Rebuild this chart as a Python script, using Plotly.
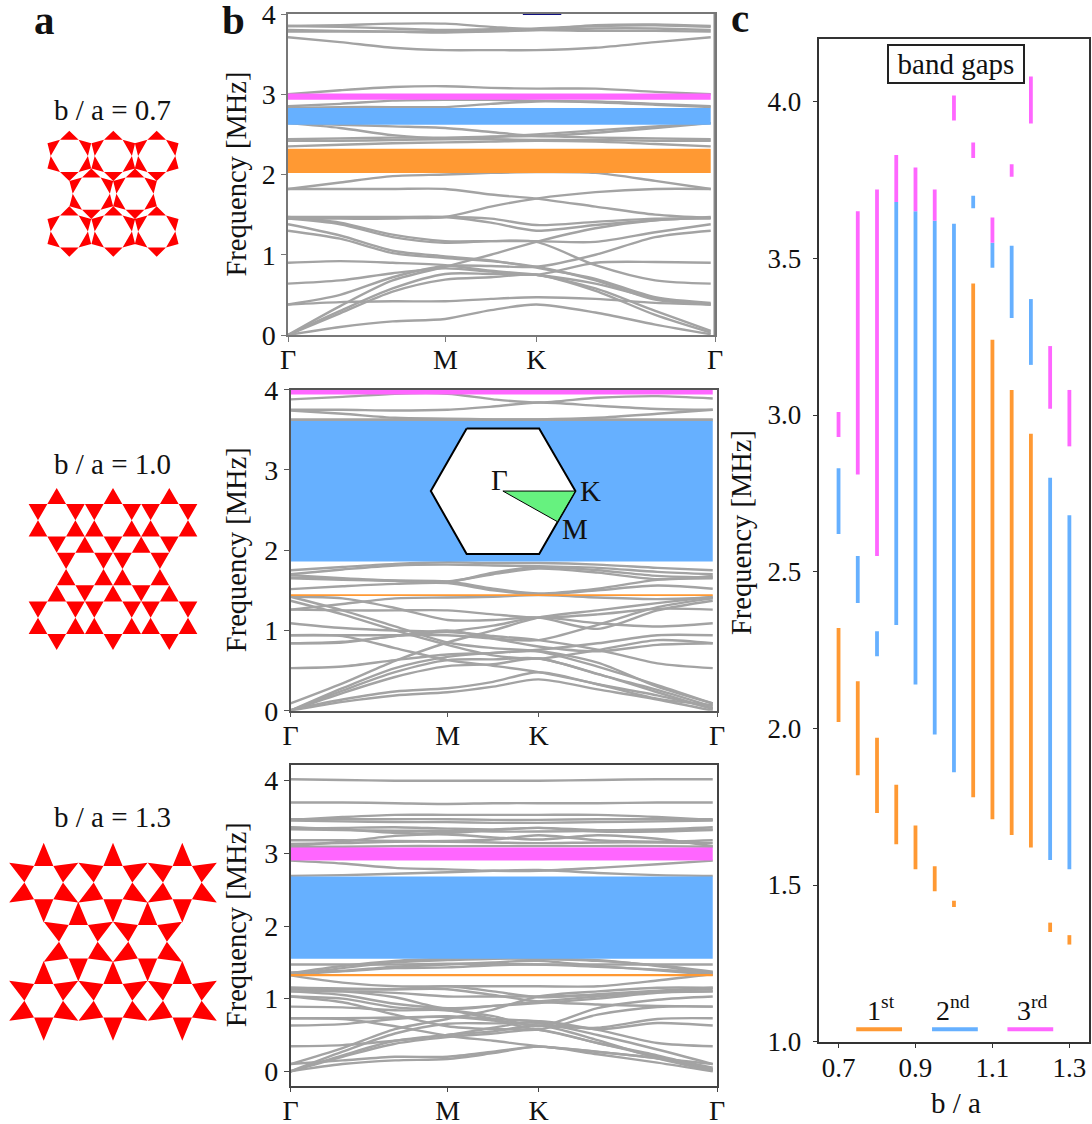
import math
import plotly.graph_objects as go

W, H = 1092, 1124
SERIF = "Liberation Serif"
GRAY = "#a3a3a3"
ORANGE, BLUE, MAGENTA = "#ff9933", "#66b0ff", "#ff66ff"

# ---------- panel c: band gaps ----------
ratios = [0.70, 0.75, 0.80, 0.85, 0.90, 0.95, 1.00, 1.05, 1.10, 1.15, 1.20, 1.25, 1.30]
gap1_low = [2.02, 1.85, 1.73, 1.63, 1.55, 1.48, 1.43, 1.78, 1.71, 1.66, 1.62, 1.35, 1.31]
gap1_high = [2.32, 2.15, 1.97, 1.82, 1.69, 1.56, 1.45, 3.42, 3.24, 3.08, 2.94, 1.38, 1.34]
gap2_low = [2.62, 2.40, 2.23, 2.33, 2.14, 1.98, 1.86, 3.66, 3.47, 3.31, 3.16, 1.58, 1.55]
gap2_high = [2.83, 2.55, 2.31, 3.68, 3.65, 3.62, 3.61, 3.70, 3.55, 3.54, 3.37, 2.80, 2.68]
gap3_low = [2.93, 2.81, 2.55, 3.68, 3.65, 3.62, 3.94, 3.82, 3.55, 3.76, 3.93, 3.02, 2.90]
gap3_high = [3.01, 3.65, 3.72, 3.83, 3.79, 3.72, 4.02, 3.87, 3.63, 3.80, 4.08, 3.22, 3.08]
legend_spans = [(0.746, 0.865), (0.943, 1.062), (1.139, 1.258)]

# ---------- panel b: dispersion curves ----------
band_x = [0, .122, .245, .368, .475, .5815, .72, .86, .99]
sym_ticks = [0, .3685, .5815, 1]
sym_labels = ["Γ", "M", "K", "Γ"]

bands_07 = [
    [0, .10, .17, .20, .31, .38, .28, .13, .01],
    [.38, .41, .42, .42, .45, .47, .45, .40, .38],
    [0, .27, .54, .69, .72, .75, .55, .25, .03],
    [0, .30, .58, .76, .76, .75, .58, .30, .05],
    [0, .36, .68, .85, 1.00, 1.16, 1.33, 1.43, 1.46],
    [.38, .50, .72, .86, .86, .85, 1.00, 1.22, 1.30],
    [.64, .68, .77, .83, .79, .75, .90, .91, .90],
    [.90, .92, .90, .87, .80, .75, .64, .46, .38],
    [1.30, 1.20, 1.02, .96, .92, .85, .68, .44, .38],
    [1.38, 1.24, 1.05, .98, .93, .84, .70, .47, .40],
    [1.47, 1.40, 1.25, 1.17, 1.17, 1.16, .87, .68, .64],
    [1.45, 1.38, 1.22, 1.15, 1.17, 1.17, 1.16, 1.28, 1.38],
    [1.47, 1.47, 1.47, 1.47, 1.40, 1.30, 1.37, 1.43, 1.47],
    [1.45, 1.45, 1.45, 1.47, 1.45, 1.37, 1.41, 1.45, 1.45],
    [1.46, 1.46, 1.46, 1.47, 1.60, 1.70, 1.78, 1.82, 1.82],
    [1.82, 1.82, 1.82, 1.82, 1.75, 1.70, 1.60, 1.50, 1.46],
    [1.82, 1.90, 1.98, 2.00, 2.02, 2.03, 2.02, 1.92, 1.82],
    [2.35, 2.37, 2.39, 2.40, 2.41, 2.42, 2.41, 2.38, 2.35],
    [2.42, 2.42, 2.43, 2.44, 2.44, 2.43, 2.43, 2.42, 2.42],
    [2.44, 2.45, 2.46, 2.46, 2.47, 2.48, 2.46, 2.45, 2.44],
    [2.64, 2.58, 2.49, 2.45, 2.47, 2.50, 2.55, 2.60, 2.64],
    [2.64, 2.62, 2.60, 2.58, 2.53, 2.48, 2.52, 2.58, 2.64],
    [2.83, 2.84, 2.84, 2.84, 2.88, 2.91, 2.90, 2.87, 2.84],
    [2.85, 2.88, 2.92, 2.93, 2.93, 2.92, 2.91, 2.88, 2.85],
    [3.00, 3.05, 3.09, 3.10, 3.08, 3.07, 3.07, 3.03, 3.00],
    [3.71, 3.65, 3.58, 3.55, 3.55, 3.55, 3.58, 3.65, 3.71],
    [3.78, 3.78, 3.78, 3.78, 3.79, 3.80, 3.79, 3.79, 3.78],
    [3.80, 3.79, 3.78, 3.77, 3.78, 3.80, 3.82, 3.82, 3.80],
    [3.85, 3.86, 3.88, 3.88, 3.84, 3.81, 3.86, 3.87, 3.85],
    [3.85, 3.84, 3.82, 3.80, 3.81, 3.82, 3.85, 3.86, 3.84],
]

bands_10 = [
    [0, .11, .19, .23, .30, .39, .265, .14, 0],
    [.01, .14, .24, .28, .36, .48, .33, .19, .03],
    [0, .22, .42, .555, .58, .65, .455, .26, .05],
    [0, .25, .48, .63, .64, .65, .46, .23, .02],
    [0, .28, .53, .67, .72, .74, .60, .30, .09],
    [.09, .34, .62, .85, 1.00, 1.16, 1.25, 1.34, 1.42],
    [.53, .55, .63, .70, .72, .76, .84, .94, .94],
    [.84, .85, .93, .98, .93, .88, .76, .59, .53],
    [.94, .93, .78, .63, .56, .48, .33, .15, .07],
    [1.09, 1.03, 1.00, .99, 1.06, 1.16, 1.09, 1.05, 1.09],
    [1.26, 1.25, 1.25, 1.25, 1.20, 1.16, 1.20, 1.27, 1.26],
    [1.37, 1.20, 1.00, .82, .69, .65, .755, .88, .84],
    [1.42, 1.25, 1.05, .85, .78, .74, .55, .32, .09],
    [1.42, 1.40, 1.28, 1.13, 1.13, 1.16, 1.02, 1.25, 1.37],
    [.94, .94, .94, .94, .90, .88, 1.07, 1.29, 1.40],
    [1.26, 1.33, 1.40, 1.41, 1.42, 1.44, 1.41, 1.39, 1.41],
    [.84, .86, .93, 1.00, .90, .80, .74, .82, .84],
    [1.515, 1.55, 1.58, 1.59, 1.50, 1.45, 1.50, 1.56, 1.52],
    [1.65, 1.63, 1.62, 1.61, 1.52, 1.46, 1.52, 1.63, 1.65],
    [1.69, 1.65, 1.62, 1.61, 1.70, 1.77, 1.72, 1.64, 1.68],
    [1.66, 1.64, 1.62, 1.60, 1.72, 1.79, 1.75, 1.68, 1.66],
    [1.70, 1.76, 1.81, 1.82, 1.81, 1.80, 1.78, 1.73, 1.70],
    [1.75, 1.79, 1.83, 1.85, 1.84, 1.84, 1.82, 1.78, 1.75],
    [3.62, 3.62, 3.62, 3.62, 3.62, 3.62, 3.62, 3.62, 3.62],
    [3.63, 3.63, 3.63, 3.63, 3.63, 3.63, 3.63, 3.63, 3.63],
    [3.74, 3.70, 3.65, 3.64, 3.63, 3.63, 3.65, 3.70, 3.75],
    [3.75, 3.75, 3.74, 3.75, 3.79, 3.84, 3.80, 3.76, 3.75],
    [3.88, 3.91, 3.95, 3.95, 3.88, 3.84, 3.90, 3.92, 3.89],
]

bands_13 = [
    [0, .10, .15, .17, .25, .34, .234, .12, 0],
    [.10, .15, .20, .20, .27, .34, .266, .18, .02],
    [0, .20, .38, .47, .52, .57, .39, .20, .05],
    [0, .22, .42, .50, .55, .63, .43, .18, .01],
    [0, .27, .52, .655, .66, .665, .50, .30, .10],
    [.10, .32, .58, .72, .85, 1.03, 1.10, 1.15, 1.15],
    [.345, .36, .42, .50, .60, .69, .57, .39, .345],
    [.63, .65, .72, .76, .72, .69, .58, .665, .63],
    [.73, .73, .74, .75, .70, .63, .60, .72, .73],
    [.89, .88, .84, .84, .72, .58, .78, .885, .89],
    [1.03, 1.00, .88, .84, .76, .62, .87, .985, 1.03],
    [1.10, 1.05, .93, .87, .90, .94, 1.00, 1.08, 1.10],
    [1.13, 1.10, 1.02, .86, .90, .96, 1.03, 1.10, 1.13],
    [1.10, 1.10, 1.08, 1.03, 1.03, 1.03, 1.05, 1.09, 1.10],
    [1.15, 1.14, 1.13, 1.13, 1.05, .96, .92, .90, .89],
    [.73, .72, .62, .49, .42, .345, .27, .18, .10],
    [1.03, .95, .78, .62, .58, .57, .39, .22, .03],
    [1.32, 1.22, 1.17, 1.17, 1.17, 1.17, 1.17, 1.25, 1.34],
    [1.15, 1.13, 1.13, 1.17, 1.10, 1.02, 1.06, 1.11, 1.15],
    [1.33, 1.38, 1.44, 1.47, 1.50, 1.52, 1.45, 1.39, 1.33],
    [1.47, 1.47, 1.47, 1.48, 1.48, 1.47, 1.47, 1.47, 1.47],
    [1.33, 1.42, 1.50, 1.53, 1.55, 1.55, 1.53, 1.45, 1.35],
    [1.36, 1.38, 1.42, 1.43, 1.46, 1.47, 1.44, 1.40, 1.36],
    [1.35, 1.45, 1.52, 1.55, 1.56, 1.55, 1.52, 1.46, 1.37],
    [2.69, 2.70, 2.72, 2.74, 2.76, 2.77, 2.73, 2.70, 2.69],
    [2.90, 2.86, 2.80, 2.78, 2.76, 2.76, 2.80, 2.85, 2.90],
    [3.09, 3.09, 3.10, 3.10, 3.10, 3.10, 3.10, 3.10, 3.09],
    [3.13, 3.14, 3.16, 3.16, 3.15, 3.14, 3.15, 3.15, 3.14],
    [3.18, 3.18, 3.17, 3.17, 3.19, 3.25, 3.18, 3.16, 3.18],
    [3.10, 3.16, 3.24, 3.26, 3.22, 3.19, 3.25, 3.20, 3.10],
    [3.34, 3.35, 3.36, 3.34, 3.33, 3.35, 3.30, 3.30, 3.32],
    [3.36, 3.33, 3.28, 3.28, 3.32, 3.35, 3.32, 3.33, 3.36],
    [3.33, 3.32, 3.31, 3.31, 3.30, 3.30, 3.31, 3.32, 3.33],
    [3.45, 3.44, 3.43, 3.43, 3.42, 3.42, 3.43, 3.44, 3.45],
    [3.47, 3.47, 3.47, 3.47, 3.46, 3.46, 3.47, 3.47, 3.47],
    [3.46, 3.50, 3.53, 3.53, 3.53, 3.53, 3.53, 3.50, 3.46],
    [3.70, 3.70, 3.69, 3.68, 3.69, 3.69, 3.69, 3.70, 3.70],
    [4.02, 4.01, 4.00, 4.00, 4.00, 4.00, 4.01, 4.02, 4.02],
]

# Brillouin-zone inset (read in panel-b2 data units)
bz_x = [.413, .583, .668, .583, .413, .329, .413]
bz_y = [3.518, 3.518, 2.737, 1.952, 1.952, 2.737, 3.518]
wedge_x = [.498, .668, .626, .498]
wedge_y = [2.737, 2.737, 2.355, 2.737]

# ---------- panel a: lattice read-offs ----------
lattice_ratio = [0.7, 1.0, 1.3]
lattice_side = [18.6, 18.7, 19.3]
lattice_cols = [[69.3, 113.3, 156.7], [56.7, 113.0, 169.3], [43.7, 113.0, 182.3]]
lattice_mid = [[91.3, 135.0], [84.8, 141.2], [78.3, 147.6]]
lattice_rows = [[155.9, 193.7, 231.5], [520.3, 569.0, 617.7], [882.6, 941.7, 1000.8]]


def stars(cx, cy, a, r):
    xs, ys = [], []
    h = a * math.sqrt(r * r - 0.25)
    ap = a * math.sqrt(3) / 2
    for k in range(6):
        t1 = math.radians(60 * k)
        t2 = math.radians(60 * k + 60)
        tm = math.radians(60 * k + 30)
        xs += [cx + a * math.cos(t1), cx + a * math.cos(t2), cx + (ap + h) * math.cos(tm), cx + a * math.cos(t1), None]
        ys += [cy + a * math.sin(t1), cy + a * math.sin(t2), cy + (ap + h) * math.sin(tm), cy + a * math.sin(t1), None]
    return xs, ys


def dom_x(a, b):
    return [a / W, b / W]


def dom_y(top, bottom):
    return [1 - bottom / H, 1 - top / H]


fig = go.Figure()

panels = [
    dict(id="", x0=288, x1=715, top=14, bottom=335, yr=[0, 4], yt=[0, 1, 2, 3, 4], bands=bands_07, gi=0, col="#777777"),
    dict(id="2", x0=290.5, x1=717, top=389.7, bottom=710.7, yr=[0, 4], yt=[0, 1, 2, 3, 4], bands=bands_10, gi=6, col="#555555"),
    dict(id="3", x0=290.5, x1=717, top=764.7, bottom=1085.7, yr=[-0.198, 4.22], yt=[0, 1, 2, 3, 4], bands=bands_13, gi=12, col="#444444"),
]

layout = dict(
    width=W, height=H, autosize=False, template="none",
    margin=dict(l=0, r=0, t=0, b=0, pad=0),
    paper_bgcolor="white", plot_bgcolor="white",
    showlegend=False,
    font=dict(family=SERIF, size=28, color="#111111"),
)
annots = []


def ann(x, y, text, size=28, **kw):
    annots.append(dict(x=x / W, y=1 - y / H, xref="paper", yref="paper", text=text, showarrow=False,
                       xanchor="center", yanchor="middle", font=dict(family=SERIF, size=size, color="#111111"), **kw))


for p in panels:
    xa, ya = "x" + p["id"], "y" + p["id"]
    layout["xaxis" + p["id"]] = dict(
        domain=dom_x(p["x0"], p["x1"]), range=[0, 1], anchor=ya, tickmode="array", automargin=False,
        tickvals=sym_ticks, ticktext=sym_labels, ticks="outside", ticklen=5, tickcolor=p["col"],
        ticklabeloverflow="allow", ticklabelstandoff=-6,
        showgrid=False, zeroline=False, showline=True, linecolor=p["col"], linewidth=1.5, mirror=True,
        tickfont=dict(family=SERIF, size=28, color="#111111"),
    )
    layout["yaxis" + p["id"]] = dict(
        domain=dom_y(p["top"], p["bottom"]), range=p["yr"], anchor=xa, tickmode="array", automargin=False,
        tickvals=p["yt"], ticktext=[str(v) for v in p["yt"]], ticks="outside", ticklen=5, tickcolor=p["col"],
        ticklabeloverflow="allow",
        showgrid=False, zeroline=False, showline=True, linecolor=p["col"], linewidth=1.5, mirror=True,
        tickfont=dict(family=SERIF, size=28, color="#111111"),
    )
    for b in p["bands"]:
        fig.add_trace(go.Scatter(x=band_x, y=b, xaxis=xa, yaxis=ya, mode="lines", hoverinfo="skip",
                                 line=dict(color=GRAY, width=2.4, shape="spline", smoothing=0.8)))
    for low, high, c in ((gap1_low, gap1_high, ORANGE), (gap2_low, gap2_high, BLUE), (gap3_low, gap3_high, MAGENTA)):
        i = p["gi"]
        fig.add_trace(go.Scatter(
            x=[0, band_x[-1], band_x[-1], 0, 0], y=[low[i], low[i], high[i], high[i], low[i]],
            xaxis=xa, yaxis=ya, mode="lines", line=dict(width=0), fill="toself", fillcolor=c, hoverinfo="skip"))
    ann(236, (p["top"] + p["bottom"]) / 2, "Frequency [MHz]", textangle=-90, size=28.5)

# panel b1 oddities
fig.add_trace(go.Scatter(x=[1, 1], y=[0, 4], xaxis="x", yaxis="y", mode="lines", hoverinfo="skip",
                         line=dict(color="#888888", width=3)))
fig.add_trace(go.Scatter(x=[.55, .64], y=[4, 4], xaxis="x", yaxis="y", mode="lines", hoverinfo="skip",
                         line=dict(color="#101080", width=2)))

# BZ inset
fig.add_trace(go.Scatter(x=bz_x, y=bz_y, xaxis="x2", yaxis="y2", mode="lines", fill="toself", fillcolor="white",
                         line=dict(color="black", width=2), hoverinfo="skip"))
fig.add_trace(go.Scatter(x=wedge_x, y=wedge_y, xaxis="x2", yaxis="y2", mode="lines", fill="toself", fillcolor="#66f27f",
                         line=dict(color="black", width=1), hoverinfo="skip"))
for (tx, ty, s) in [(.491, 2.87, "Γ"), (.704, 2.74, "K"), (.668, 2.26, "M")]:
    annots.append(dict(x=tx, y=ty, xref="x2", yref="y2", text=s, showarrow=False, xanchor="center", yanchor="middle",
                       font=dict(family=SERIF, size=29, color="#111111")))

# panel c
layout["xaxis4"] = dict(domain=dom_x(819.3, 1089), range=[0.65, 1.351], anchor="y4", tickmode="array", automargin=False,
                        tickvals=[0.7, 0.9, 1.1, 1.3], ticktext=["0.7", "0.9", "1.1", "1.3"], ticks="outside", ticklen=5,
                        ticklabeloverflow="allow", ticklabelstandoff=-4,
                        tickcolor="#333333", showgrid=False, zeroline=False, showline=True, linecolor="#333333",
                        linewidth=1.5, mirror=True, tickfont=dict(family=SERIF, size=27, color="#111111"))
layout["yaxis4"] = dict(domain=dom_y(39, 1041.7), range=[1.0, 4.2], anchor="x4", tickmode="array", automargin=False,
                        tickvals=[1, 1.5, 2, 2.5, 3, 3.5, 4], ticktext=["1.0", "1.5", "2.0", "2.5", "3.0", "3.5", "4.0"],
                        ticks="outside", ticklen=5, tickcolor="#333333", showgrid=False, zeroline=False, showline=True,
                        ticklabeloverflow="allow", ticklabelstandoff=6,
                        linecolor="#333333", linewidth=1.5, mirror=True, tickfont=dict(family=SERIF, size=27, color="#111111"))
for low, high, c, span in ((gap1_low, gap1_high, ORANGE, legend_spans[0]),
                           (gap2_low, gap2_high, BLUE, legend_spans[1]),
                           (gap3_low, gap3_high, MAGENTA, legend_spans[2])):
    xs, ys = [], []
    for r, a, b in zip(ratios, low, high):
        xs += [r, r, None]
        ys += [a, b, None]
    fig.add_trace(go.Scatter(x=xs, y=ys, xaxis="x4", yaxis="y4", mode="lines", line=dict(color=c, width=3.8), hoverinfo="skip"))
    fig.add_trace(go.Scatter(x=list(span), y=[1.04, 1.04], xaxis="x4", yaxis="y4", mode="lines", line=dict(color=c, width=4), hoverinfo="skip"))

ann(741, 533, "Frequency [MHz]", textangle=-90, size=28.5)
ann(955.7, 1103, "b / a", size=29)
ann(880.7, 1008, "1<sup>st</sup>", size=28)
ann(953, 1008, "2<sup>nd</sup>", size=28)
ann(1032, 1008, "3<sup>rd</sup>", size=28)
annots.append(dict(x=956 / W, y=1 - 64 / H, xref="paper", yref="paper", text="band gaps", showarrow=False,
                   xanchor="center", yanchor="middle", width=134, height=36, bgcolor="white",
                   bordercolor="#222222", borderwidth=2, borderpad=0,
                   font=dict(family=SERIF, size=29, color="#111111")))

# panel a
layout["xaxis5"] = dict(domain=[0, 225 / W], range=[0, 225], anchor="y5", visible=False, automargin=False)
layout["yaxis5"] = dict(domain=[0, 1], range=[H, 0], anchor="x5", visible=False, automargin=False)
txs, tys = [], []
for ratio, side, cols, mid, rows in zip(lattice_ratio, lattice_side, lattice_cols, lattice_mid, lattice_rows):
    for ry, centres in zip(rows, (cols, mid, cols)):
        for cx in centres:
            a, b = stars(cx, ry, side, ratio)
            txs += a
            tys += b
fig.add_trace(go.Scatter(x=txs, y=tys, xaxis="x5", yaxis="y5", mode="lines", line=dict(width=0), fill="toself",
                         fillcolor="#ff0000", hoverinfo="skip"))
ann(113, 109.5, "b / a = 0.7", size=29)
ann(113, 464, "b / a = 1.0", size=29)
ann(113, 816.5, "b / a = 1.3", size=29)

ann(44, 20, "<b>a</b>", size=41)
ann(233.5, 20, "<b>b</b>", size=41)
ann(740, 18, "<b>c</b>", size=41)

layout["annotations"] = annots
fig.update_layout(**layout)
fig.write_html("out.html", config={"displayModeBar": False}, post_script="document.body.style.margin='0';")
